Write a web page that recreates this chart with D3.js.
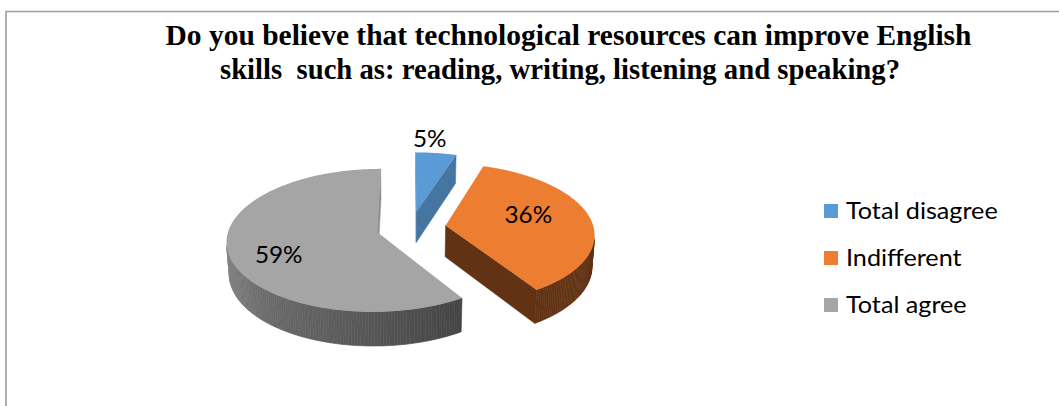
<!DOCTYPE html>
<html>
<head>
<meta charset="utf-8">
<script src="https://cdn.jsdelivr.net/npm/d3@7"></script>
<style>
  html, body { margin: 0; padding: 0; background: #ffffff; }
  svg { display: block; }
</style>
</head>
<body>
<svg id="chart" width="1059" height="406"></svg>
<script>
// ---- data ----
const categories = ["Total disagree", "Indifferent", "Total agree"];
const values = [5, 36, 59];
const valueLabels = ["5%", "36%", "59%"];
const titleLines = [
  "Do you believe that technological resources can improve English",
  "skills  such as: reading, writing, listening and speaking?"
];

// ---- styling ----
const sliceColors = ["#5b9bd5", "#ed7d31", "#a5a5a5"];
const cutFaceShade = [0.76, 0.41, 0.86];      // brightness of the radial cut faces
const labelRadius = [1.27, 0.60, 0.70];       // label distance, fraction of radius
const labelAngleShift = [-4, -9, -10];        // degrees, rotates label off the bisector

// ---- 3D pie geometry ----
const cx = 411, cy = 227.5;      // screen position of the pie centre (top face)
const R = 148;                   // disc radius
const tilt = 28 * Math.PI / 180; // camera elevation
const D = 1143;                  // camera distance (perspective)
const thick = 36;                // disc thickness
const explode = 35;              // slice explosion distance
const sinT = Math.sin(tilt), cosT = Math.cos(tilt);
const cam = [0, D * sinT, -D * cosT];

function project(x, y, z) {
  const Y = y * cosT + z * sinT;
  const depth = z * cosT - y * sinT;
  const s = D / (D + depth);
  return [cx + x * s, cy - Y * s];
}

const svg = d3.select("#chart");

// chart area frame
svg.append("path")
  .attr("d", "M6,406 V11.5 H1059")
  .attr("fill", "none")
  .attr("stroke", "#9d9d9d")
  .attr("stroke-width", 1.6);

// title
const title = svg.append("g").attr("class", "title")
  .attr("font-family", "'Liberation Serif', 'Times New Roman', serif")
  .attr("font-weight", "bold")
  .attr("font-size", 29)
  .attr("fill", "#000");
const titleLayout = [
  { x: 568.5, y: 45, len: 806 },
  { x: 560, y: 78.5, len: 680 }
];
titleLines.forEach((t, i) => {
  title.append("text")
    .attr("x", titleLayout[i].x)
    .attr("y", titleLayout[i].y)
    .attr("text-anchor", "middle")
    .attr("textLength", titleLayout[i].len)
    .attr("lengthAdjust", "spacingAndGlyphs")
    .style("white-space", "pre")
    .text(t);
});

// slices
const pie = d3.pie().sort(null).value(d => d);
const arcs = pie(values);
const slices = arcs.map((a, i) => {
  const mid = (a.startAngle + a.endAngle) / 2;
  return {
    i, a0: a.startAngle, a1: a.endAngle, mid,
    ox: explode * Math.sin(mid), oz: explode * Math.cos(mid)
  };
});

const wallShade = d3.scaleLinear()
  .domain([90, 147.6, 180, 225, 270])
  .range([0.41, 0.41, 0.52, 0.66, 0.86])
  .clamp(true);

function shade(hex, f) {
  const c = d3.rgb(hex);
  return d3.rgb(c.r * f, c.g * f, c.b * f).formatHex();
}
function rim(s, a, y, r = R) {
  return project(s.ox + r * Math.sin(a), y, s.oz + r * Math.cos(a));
}
function facing(nx, nz, px, pz) {
  return nx * (cam[0] - px) + nz * (cam[2] - pz) > 0;
}
const line = d3.line();
const poly = pts => line(pts) + "Z";

const pieG = svg.append("g").attr("class", "pie");
const drawOrder = slices.slice().sort((a, b) => b.oz - a.oz);

drawOrder.forEach(s => {
  const g = pieG.append("g");
  const col = sliceColors[s.i];
  const apexTop = project(s.ox, 0, s.oz);
  const apexBot = project(s.ox, -thick, s.oz);

  // radial cut faces
  const cuts = [
    { a: s.a0, nx: -Math.cos(s.a0), nz: Math.sin(s.a0) },
    { a: s.a1, nx: Math.cos(s.a1), nz: -Math.sin(s.a1) }
  ];
  cuts.forEach(c => {
    const px = s.ox + R / 2 * Math.sin(c.a), pz = s.oz + R / 2 * Math.cos(c.a);
    if (!facing(c.nx, c.nz, px, pz)) return;
    const fc = shade(col, cutFaceShade[s.i]);
    g.append("path")
      .attr("d", poly([apexTop, rim(s, c.a, 0), rim(s, c.a, -thick), apexBot]))
      .attr("fill", fc).attr("stroke", fc).attr("stroke-width", 0.5);
  });

  // outer curved wall
  const step = Math.PI / 180;
  const n = Math.ceil((s.a1 - s.a0) / step);
  for (let k = 0; k < n; k++) {
    const t0 = s.a0 + (s.a1 - s.a0) * k / n;
    const t1 = s.a0 + (s.a1 - s.a0) * (k + 1) / n;
    const tm = (t0 + t1) / 2;
    const px = s.ox + R * Math.sin(tm), pz = s.oz + R * Math.cos(tm);
    if (!facing(Math.sin(tm), Math.cos(tm), px, pz)) continue;
    const fc = shade(col, wallShade(tm * 180 / Math.PI));
    g.append("path")
      .attr("d", poly([rim(s, t0, 0), rim(s, t1, 0), rim(s, t1, -thick), rim(s, t0, -thick)]))
      .attr("fill", fc).attr("stroke", fc).attr("stroke-width", 0.6);
  }

  // top face
  const topPts = [apexTop];
  const m = Math.max(2, Math.ceil((s.a1 - s.a0) / (step / 2)));
  for (let k = 0; k <= m; k++) {
    topPts.push(rim(s, s.a0 + (s.a1 - s.a0) * k / m, 0));
  }
  g.append("path")
    .attr("d", poly(topPts))
    .attr("fill", col);
});

// data labels
const labelG = svg.append("g").attr("class", "labels")
  .attr("font-family", "Lato, 'Noto Sans', sans-serif")
  .attr("font-size", 22.5)
  .attr("fill", "#000");
slices.forEach(s => {
  const a = s.mid + labelAngleShift[s.i] * Math.PI / 180;
  const r = R * labelRadius[s.i];
  const p = project(s.ox + r * Math.sin(a), 0, s.oz + r * Math.cos(a));
  labelG.append("text")
    .attr("transform", `translate(${p[0]},${p[1]}) scale(1.08,1)`)
    .attr("text-anchor", "middle")
    .attr("dominant-baseline", "central")
    .text(valueLabels[s.i]);
});

// legend
const legend = svg.append("g").attr("class", "legend")
  .attr("transform", "translate(824,204)")
  .attr("font-family", "Lato, 'Noto Sans', sans-serif")
  .attr("font-size", 22.5)
  .attr("fill", "#000");
const legendRow = d3.scalePoint().domain(categories).range([0, 94]);
categories.forEach((c, i) => {
  const row = legend.append("g").attr("transform", `translate(0,${legendRow(c)})`);
  row.append("rect")
    .attr("width", 14).attr("height", 14)
    .attr("fill", sliceColors[i]);
  row.append("text")
    .attr("transform", "translate(22,15) scale(1.12,1)")
    .text(c);
});
</script>
</body>
</html>
